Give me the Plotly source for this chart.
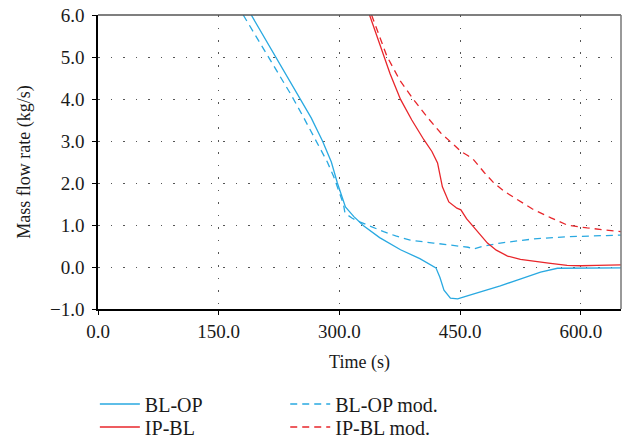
import plotly.graph_objects as go

# BL-OP (solid blue)
blop_t = [190.5, 215, 240, 251.5, 265, 279, 290, 297.5, 303, 307.5, 318, 330, 350, 376, 400, 420, 425, 430, 438, 443, 447, 460, 484, 500, 521, 537, 550, 571, 600, 650]
blop_y = [6.0, 5.2, 4.4, 4.0, 3.55, 3.0, 2.5, 2.0, 1.7, 1.43, 1.2, 0.98, 0.7, 0.41, 0.2, -0.02, -0.25, -0.55, -0.74, -0.76, -0.76, -0.68, -0.55, -0.45, -0.31, -0.2, -0.12, -0.03, -0.02, -0.02]

# BL-OP mod. (dashed blue)
blopm_t = [180.5, 210, 240, 255, 270, 285, 293, 300, 305, 307, 316, 326, 340, 355, 370, 388, 417, 447, 460, 467, 480, 500, 520, 542, 583, 620, 650]
blopm_y = [6.0, 5.05, 4.1, 3.58, 3.03, 2.5, 2.15, 1.8, 1.5, 1.28, 1.16, 1.07, 0.95, 0.84, 0.74, 0.64, 0.57, 0.50, 0.47, 0.43, 0.5, 0.57, 0.62, 0.67, 0.72, 0.74, 0.76]

# IP-BL (solid red)
ipbl_t = [337.5, 351, 363, 376, 390, 405, 415, 422, 428, 436, 446, 451, 458, 467, 476, 484, 495, 509, 525, 542, 560, 583, 600, 620, 650]
ipbl_y = [6.0, 5.25, 4.6, 3.99, 3.5, 3.03, 2.75, 2.48, 1.91, 1.55, 1.4, 1.36, 1.15, 0.95, 0.75, 0.57, 0.4, 0.26, 0.18, 0.13, 0.09, 0.04, 0.03, 0.04, 0.05]

# IP-BL mod. (dashed red)
ipblm_t = [340, 359, 375, 392, 410, 426, 440, 451, 460, 467, 480, 492, 505, 521, 540, 563, 583, 608, 630, 650]
ipblm_y = [6.0, 5.02, 4.45, 3.99, 3.55, 3.19, 2.95, 2.75, 2.65, 2.55, 2.25, 2.0, 1.8, 1.6, 1.38, 1.17, 1.0, 0.93, 0.88, 0.84]

x_ticks = [0, 150, 300, 450, 600]
x_labels = ["0.0", "150.0", "300.0", "450.0", "600.0"]
y_ticks = [-1, 0, 1, 2, 3, 4, 5, 6]
y_labels = ["\u22121.0", "0.0", "1.0", "2.0", "3.0", "4.0", "5.0", "6.0"]

BLUE = "#29a9e1"
RED = "#e8262b"
FONT = "Liberation Serif, Times New Roman, serif"
TXT = "#1a1a1a"

fig = go.Figure()
fig.add_trace(go.Scatter(x=blop_t, y=blop_y, mode="lines", name="BL-OP",
                         line=dict(color=BLUE, width=1.3), legend="legend2"))
fig.add_trace(go.Scatter(x=blopm_t, y=blopm_y, mode="lines", name="BL-OP mod.",
                         line=dict(color=BLUE, width=1.3, dash="7px,5px"), legend="legend3"))
fig.add_trace(go.Scatter(x=ipbl_t, y=ipbl_y, mode="lines", name="IP-BL",
                         line=dict(color=RED, width=1.3), legend="legend4"))
fig.add_trace(go.Scatter(x=ipblm_t, y=ipblm_y, mode="lines", name="IP-BL mod.",
                         line=dict(color=RED, width=1.3, dash="7px,5px"), legend="legend5"))

axis_common = dict(
    showline=True, linecolor="black", linewidth=1.5,
    ticks="outside", ticklen=4, tickcolor="black", tickwidth=1,
    showgrid=True, gridcolor="#555555", gridwidth=1, griddash="1.5px,11px",
    zeroline=False, automargin=False,
    tickfont=dict(family=FONT, size=19, color=TXT),
)

fig.update_xaxes(range=[0, 650], tickvals=x_ticks, ticktext=x_labels,
                 title=dict(text="Time (s)", font=dict(family=FONT, size=18, color=TXT)),
                 **axis_common)
fig.update_yaxes(range=[-1, 6], tickvals=y_ticks, ticktext=y_labels, ticklabelstandoff=4,
                 title=dict(text="Mass flow rate (kg/s)", font=dict(family=FONT, size=18, color=TXT)),
                 **axis_common)

# top and right frame lines
fig.add_shape(type="line", xref="paper", yref="paper", x0=0, x1=1, y0=1, y1=1,
              line=dict(color="#555555", width=1.5))
fig.add_shape(type="line", xref="paper", yref="paper", x0=1, x1=1, y0=0, y1=1,
              line=dict(color="#777777", width=1.5))

legend_common = dict(orientation="v", bgcolor="rgba(0,0,0,0)",
                     font=dict(family=FONT, size=20, color=TXT),
                     xanchor="left", yanchor="middle", tracegroupgap=0,
                     itemwidth=40)
row1 = (309 - 404) / 294
row2 = (309 - 427) / 294
col1 = -0.006
col2 = 0.358
fig.update_layout(
    width=626, height=442,
    margin=dict(l=98, r=5, t=15, b=133, autoexpand=False),
    plot_bgcolor="white", paper_bgcolor="white",
    legend2=dict(x=col1, y=row1, **legend_common),
    legend3=dict(x=col2, y=row1, **legend_common),
    legend4=dict(x=col1, y=row2, **legend_common),
    legend5=dict(x=col2, y=row2, **legend_common),
)

fig.write_html("out.html")
